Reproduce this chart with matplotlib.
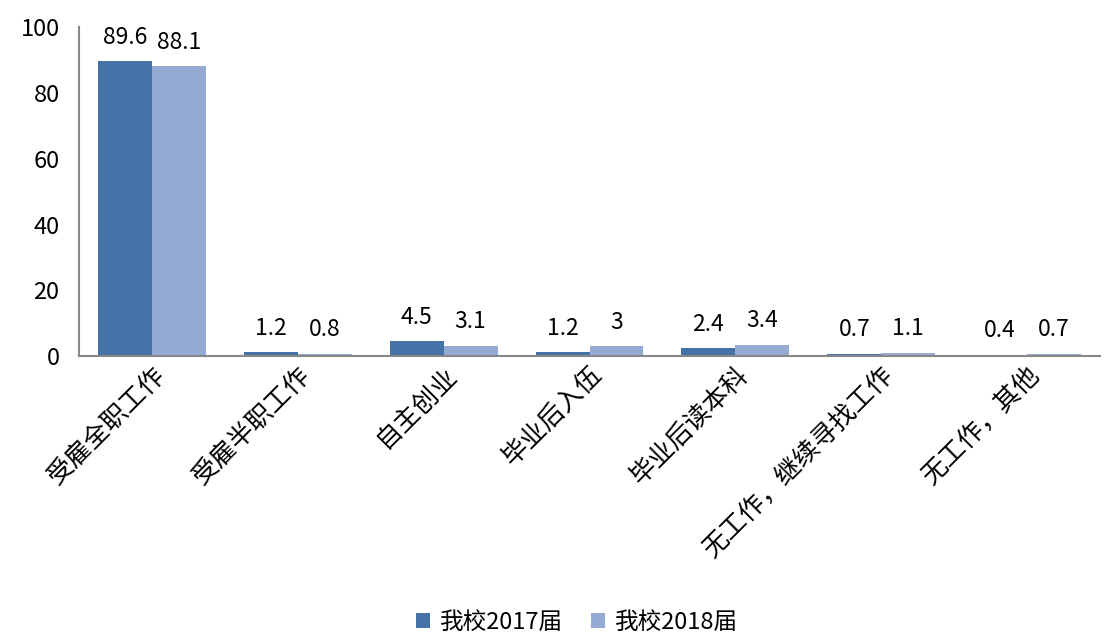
import numpy as np
import matplotlib
matplotlib.use('Agg')
import matplotlib.pyplot as plt

plt.rcParams['font.family'] = ['Noto Sans CJK SC', 'DejaVu Sans']

categories = ['受雇全职工作', '受雇半职工作', '自主创业', '毕业后入伍', '毕业后读本科',
              '无工作，继续寻找工作', '无工作，其他']
vals_2017 = [89.6, 1.2, 4.5, 1.2, 2.4, 0.7, 0.4]
vals_2018 = [88.1, 0.8, 3.1, 3, 3.4, 1.1, 0.7]
series_names = ['我校2017届', '我校2018届']

c17 = '#4572A7'
c18 = '#95ABD3'

fig = plt.figure(figsize=(11.05, 6.36), dpi=100)
ax = fig.add_axes([0.0715, 0.44, 0.924, 0.5175])

x = np.arange(len(categories))
w = 0.37
b1 = ax.bar(x - w/2, vals_2017, w, color=c17, label=series_names[0])
b2 = ax.bar(x + w/2, vals_2018, w, color=c18, label=series_names[1])

for bars, vals in ((b1, vals_2017), (b2, vals_2018)):
    for r, v in zip(bars, vals):
        ax.annotate(f'{v:g}', (r.get_x() + r.get_width()/2, v), xytext=(0, 9),
                    textcoords='offset points', ha='center', va='bottom', fontsize=16.5)

ax.set_xlim(-0.5, len(categories) - 0.5)
ax.set_ylim(0, 100)
ax.set_yticks(range(0, 101, 20))
ax.tick_params(axis='y', length=0, labelsize=17, pad=14)
ax.tick_params(axis='x', length=0, pad=4)
ax.set_xticks(x)
ax.set_xticklabels(categories, rotation=45, ha='right', rotation_mode='anchor', fontsize=18.5)

for s in ('top', 'right'):
    ax.spines[s].set_visible(False)
for s in ('left', 'bottom'):
    ax.spines[s].set_color('#888888')
    ax.spines[s].set_linewidth(1.5)

fig.legend(handles=[b1, b2], labels=series_names, loc='lower center', ncol=2,
           bbox_to_anchor=(0.522, -0.03), frameon=False, fontsize=17,
           handlelength=0.6, handleheight=0.6, handletextpad=0.4, columnspacing=1.2)

fig.savefig('out.png', dpi=100)
